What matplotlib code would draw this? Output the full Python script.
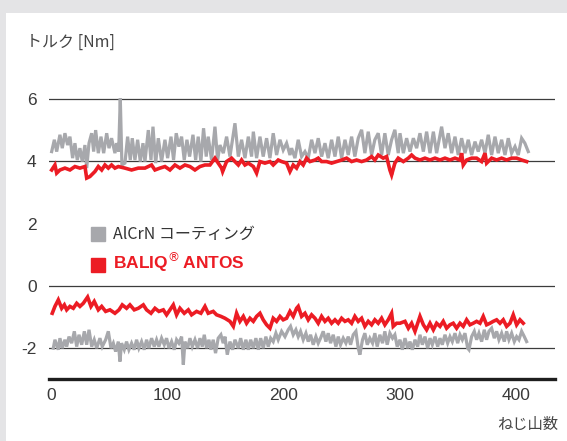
import matplotlib.pyplot as plt
from matplotlib.lines import Line2D
from matplotlib.patches import Rectangle

# AlCrN coating, upper curve
alcrn_top_x = [0.6, 2.9, 4.9, 7.7, 9.7, 12.0, 14.3, 16.3, 18.6, 20.6, 22.6, 24.9, 26.9, 29.2, 30.7, 32.7,
               35.0, 36.7, 38.4, 40.7, 43.0, 45.3, 47.9, 49.9, 52.1, 55.0, 56.4, 58.2, 59.6, 61.0, 63.6,
               65.9, 68.2, 69.9, 72.2, 74.5, 76.8, 79.1, 80.8, 83.7, 86.0, 87.7, 90.0, 92.3, 95.1, 98.0,
               100.3, 103.2, 105.4, 107.7, 110.0, 112.3, 114.6, 116.9, 119.2, 122.1, 124.4, 126.6, 128.9,
               131.2, 133.5, 135.2, 138.1, 141.0, 143.3,
               145.3, 148.2, 151.0, 153.9, 158.2, 161.1, 163.9, 166.8, 169.7, 172.5, 174.0, 176.8, 179.7,
               182.5, 185.4, 188.3, 191.1, 194.0, 196.9, 199.7, 202.6, 205.5, 206.9, 209.8, 212.6, 215.5,
               218.4, 221.2, 224.1, 227.0, 229.8, 232.7, 235.6, 238.4, 241.3, 244.2, 247.0, 249.9, 252.8,
               255.6, 258.5, 261.3, 264.2, 267.1, 269.9, 272.8, 275.7, 278.5, 281.4, 284.3, 287.1, 290.0,
               292.9, 295.7, 298.6,
               300.1, 303.0, 305.8, 308.7, 311.6, 314.4, 317.3, 320.2, 323.0, 325.9, 328.8, 331.6, 335.9,
               338.8, 341.6, 344.5, 347.4, 350.2, 353.1, 356.0, 358.8, 361.7, 364.6, 367.4, 370.3, 373.2,
               376.0, 378.9, 381.8, 384.6, 387.5, 390.4, 393.2, 396.1, 399.0, 401.8, 404.7, 407.5, 410.4]
alcrn_top_y = [4.31, 4.69, 4.31, 4.85, 4.42, 4.90, 4.52, 4.79, 4.10, 4.58, 4.04, 4.42, 3.99, 4.52, 3.78, 4.58,
               4.90, 4.31, 5.00, 4.26, 4.79, 4.26, 4.90, 4.42, 4.74, 4.26, 4.58, 4.31, 6.02, 3.88, 3.94,
               4.79, 4.04, 4.74, 4.04, 4.69, 3.99, 4.58, 3.99, 5.00, 4.04, 5.11, 3.94, 4.74, 3.99, 4.69,
               4.10, 4.79, 4.04, 4.90, 4.47, 4.79, 4.04, 4.69, 4.15, 4.85, 4.04, 4.79, 3.99,
               5.06, 4.15, 4.79, 4.04, 5.11, 4.04,
               4.52, 4.26, 4.79, 4.15, 5.22, 4.15, 4.69, 4.10, 4.79, 4.15, 4.95, 4.10, 4.79,
               4.15, 4.74, 4.10, 4.90, 4.20, 4.69, 4.36, 4.58, 4.20, 4.42, 4.10, 4.69, 4.15,
               4.31, 4.10, 4.69, 4.26, 4.74, 4.15, 4.58, 4.10, 4.69, 4.15, 4.79, 4.10, 4.69,
               4.20, 4.79, 4.15, 4.74, 5.01, 4.26, 4.95, 4.20, 4.69, 4.90, 4.20, 4.90, 4.20,
               4.69, 5.01, 4.26,
               4.90, 4.26, 4.74, 4.31, 4.74, 4.42, 4.90, 4.31, 4.95, 4.26, 4.95, 4.26, 5.11,
               4.42, 4.90, 4.26, 4.79, 4.20, 4.74, 4.26, 4.69, 4.20, 4.63, 4.31, 4.69, 4.26,
               4.85, 4.20, 4.79, 4.26, 4.69, 4.20, 4.74, 4.26, 4.47, 4.20, 4.74, 4.58, 4.31]

# BALIQ ANTOS, upper curve
baliq_top_x = [0.6, 3.4, 4.9, 7.7, 12.0, 16.3, 20.6, 24.9, 29.2, 30.7, 33.5, 37.8, 40.7, 43.6, 46.4, 49.3,
               52.1, 55.0, 57.9, 63.6, 69.3, 75.1, 80.8, 86.5, 89.4, 93.7, 98.0, 102.3, 106.6, 110.9,
               115.2, 119.5, 123.8, 128.1, 132.4, 136.7, 141.0, 143.8, 146.7,
               147.6, 151.0, 155.3, 158.2, 161.1, 163.9, 166.8, 169.7, 174.0, 176.8, 179.7, 184.0, 188.3,
               191.1, 195.4, 198.3, 202.6, 205.5, 208.3, 211.2, 214.1, 216.9, 219.8, 222.7, 227.0, 229.8,
               232.7, 237.0, 241.3, 245.6, 249.9, 254.2, 258.5, 262.8, 267.1, 271.4, 275.7, 278.5, 281.4,
               285.7, 288.6, 291.4, 292.9, 295.7, 298.6,
               303.0, 307.3, 310.1, 313.0, 317.3, 321.6, 325.9, 330.2, 334.5, 338.8, 343.1, 347.4, 351.7,
               353.1, 354.5, 357.4, 361.7, 366.0, 370.3, 373.2, 374.6, 378.9, 383.2, 387.5, 391.8, 396.1,
               400.4, 404.7, 409.0]
baliq_top_y = [3.72, 3.88, 3.62, 3.72, 3.78, 3.72, 3.83, 3.78, 3.83, 3.46, 3.51, 3.67, 3.83, 3.72, 3.88, 3.78,
               3.88, 3.78, 3.83, 3.78, 3.72, 3.78, 3.78, 3.88, 3.72, 3.78, 3.83, 3.72, 3.88, 3.78,
               3.88, 3.83, 3.72, 3.83, 3.88, 3.88, 4.10, 3.94, 3.78,
               3.67, 3.99, 4.10, 3.99, 3.88, 4.04, 3.88, 3.94, 3.83, 3.62, 3.99, 3.94, 3.99,
               3.88, 4.04, 3.99, 3.94, 3.67, 3.88, 3.78, 3.99, 3.88, 4.10, 3.99, 4.04, 4.10,
               3.99, 3.99, 3.94, 3.99, 4.04, 4.10, 3.99, 4.04, 3.99, 4.04, 4.15, 4.04, 4.20,
               4.10, 4.15, 3.72, 3.56, 3.94, 4.10,
               3.99, 4.10, 4.20, 4.10, 4.04, 4.10, 4.04, 4.10, 4.04, 4.10, 4.04, 4.10, 4.04,
               4.26, 3.88, 4.04, 4.10, 4.10, 3.99, 4.26, 3.94, 4.10, 4.04, 4.10, 4.04, 4.10,
               4.10, 4.04, 3.99]

# BALIQ ANTOS, lower curve
baliq_low_x = [1.1, 3.4, 6.3, 9.2, 11.5, 13.5, 16.3, 19.2, 22.1, 24.9, 27.8, 31.5, 34.4, 37.2, 40.7, 43.6,
               47.0, 50.7, 55.0, 58.5, 61.3, 65.0, 67.9, 71.6, 75.1, 79.4, 82.2, 86.0, 89.4, 92.8, 96.6,
               99.4, 102.3, 105.2, 108.0, 110.9, 114.6, 118.1, 120.9, 125.2, 128.9, 132.4, 135.2, 139.5,
               142.4, 146.1,
               149.6, 153.9, 156.8, 159.6, 162.5, 165.4, 168.2, 171.1, 174.0, 176.8, 179.7, 182.5, 185.4,
               188.3, 191.1, 194.0, 196.9, 199.7, 202.6, 205.5, 208.3, 211.2, 212.6, 215.5, 218.4, 221.2,
               224.1, 227.0, 229.8, 232.7, 235.6, 238.4, 241.3, 244.2, 247.0, 249.9, 252.8, 255.6, 258.5,
               261.3, 264.2, 267.1, 269.9, 272.8, 275.7, 278.5, 281.4, 284.3, 287.1, 290.0, 292.9, 294.3,
               297.2,
               300.1, 304.4, 307.3, 310.1, 313.0, 315.9, 317.3, 320.2, 323.0, 325.9, 328.8, 331.6, 334.5,
               337.3, 340.2, 343.1, 345.9, 348.8, 351.7, 354.5, 357.4, 360.3, 363.1, 366.0, 368.9, 371.7,
               374.6, 377.5, 380.3, 383.2, 386.1, 388.9, 391.8, 394.7, 397.5, 400.4, 403.3, 406.1]
baliq_low_y = [-0.88, -0.66, -0.45, -0.72, -0.61, -0.77, -0.66, -0.72, -0.56, -0.66, -0.56, -0.36, -0.66,
               -0.50, -0.77, -0.66, -0.82, -0.77, -0.88, -0.77, -0.61, -0.72, -0.61, -0.77, -0.72, -0.61,
               -0.77, -0.88, -0.72, -0.82, -0.77, -0.93, -0.77, -0.61, -0.93, -0.72, -0.88, -0.77, -0.93,
               -0.82, -0.88, -0.66, -0.88, -0.82, -0.93, -0.98,
               -1.04, -1.14, -1.30, -0.88, -1.14, -0.98, -1.20, -1.04, -1.14, -0.98, -0.88, -1.09, -1.25,
               -1.36, -1.04, -1.14, -0.98, -1.09, -1.04, -0.82, -0.98, -0.72, -0.66, -0.98, -0.88, -1.09,
               -0.93, -1.04, -1.20, -0.98, -1.14, -1.04, -1.20, -1.09, -1.20, -1.04, -1.14, -1.09, -1.20,
               -0.98, -1.14, -1.04, -1.30, -1.14, -1.25, -1.09, -1.20, -1.04, -1.25, -1.09, -0.88, -1.30,
               -1.20,
               -1.20, -1.14, -1.36, -1.20, -1.46, -1.14, -0.98, -1.25, -1.41, -1.20, -1.41, -1.20, -1.30,
               -1.14, -1.36, -1.25, -1.20, -1.36, -1.20, -1.30, -1.09, -1.25, -1.20, -1.14, -1.20, -0.98,
               -1.25, -1.20, -1.14, -1.09, -1.20, -1.09, -1.30, -1.20, -0.93, -1.25, -1.09, -1.20]

# AlCrN coating, lower curve
alcrn_low_x = [2.0, 3.4, 6.3, 7.7, 9.7, 12.0, 13.5, 15.5, 17.8, 20.1, 22.1, 24.1, 26.4, 28.7, 30.7, 32.7,
               35.0, 37.2, 39.3, 42.1, 44.1, 47.0, 49.3, 51.6, 53.6, 55.6, 57.9, 59.3, 60.7, 63.0, 65.0,
               67.0, 69.3, 71.6, 73.6, 75.6, 77.9, 80.2, 82.2, 84.2, 86.5, 88.8, 90.8, 92.8, 95.1, 97.4,
               99.4, 101.4, 103.7, 106.0, 108.0, 110.0, 112.3, 113.8, 115.2, 117.5, 119.5, 121.5, 123.8,
               126.1, 128.1, 130.1, 131.8, 133.8, 135.8, 137.5, 139.5, 141.5, 143.8, 146.1, 148.1,
               149.6, 151.6, 153.9, 156.2, 158.2, 161.1, 163.1, 165.4, 167.6, 169.7, 171.7, 174.0, 176.2,
               178.3, 180.3, 182.5, 184.8, 186.8, 188.9, 191.1, 193.4, 195.4, 198.3, 201.2, 204.0, 206.0,
               208.3, 210.6, 212.6, 214.6, 216.9, 219.2, 221.2, 223.2, 225.5, 227.8, 229.8, 231.8, 234.1,
               236.4, 238.4, 240.4, 242.7, 245.0, 247.0, 249.0, 251.3, 253.6, 255.6, 257.6, 259.9, 262.2,
               264.2, 265.6, 267.9, 269.9, 272.0, 274.2, 276.5, 278.5, 280.5, 282.8, 285.1, 287.1, 289.1,
               291.4, 293.7, 295.7, 297.7,
               300.1, 302.1, 304.4, 306.7, 308.7, 310.7, 313.0, 315.3, 317.3, 319.3, 321.6, 323.9, 325.9,
               327.9, 330.2, 332.5, 334.5, 336.5, 338.8, 341.1, 343.1, 345.1, 347.4, 349.7, 351.7, 353.7,
               356.0, 358.3, 359.4, 361.7, 364.0, 366.0, 368.0, 370.3, 372.6, 374.6, 376.6, 378.9, 381.2,
               383.2, 385.2, 387.5, 389.8, 391.8, 393.8, 396.1, 398.4, 400.4, 402.4, 404.7, 407.0, 409.0]
alcrn_low_y = [-2.00, -1.73, -2.05, -1.68, -2.00, -1.73, -1.95, -1.63, -1.84, -1.46, -1.95, -1.57, -1.89,
               -1.46, -1.89, -1.41, -1.95, -1.73, -2.00, -1.68, -1.95, -1.73, -1.46, -2.00, -1.84, -2.11,
               -1.79, -2.43, -1.84, -2.05, -1.79, -2.05, -1.84, -2.05, -1.73, -2.00, -1.79, -2.05, -1.73,
               -2.00, -1.68, -1.95, -1.73, -1.95, -1.68, -1.89, -1.68, -2.00, -1.79, -2.05, -1.73, -1.84,
               -1.63, -2.53, -1.79, -2.00, -1.68, -1.95, -1.73, -2.00, -1.68, -1.95, -1.57, -2.00, -1.73,
               -2.05, -1.73, -2.16, -1.68, -1.57, -1.84,
               -1.63, -2.21, -1.79, -2.05, -1.73, -2.00, -1.68, -2.05, -1.73, -2.05, -1.73, -2.00, -1.68,
               -2.05, -1.68, -2.00, -1.63, -1.95, -1.68, -1.79, -1.52, -1.73, -1.46, -1.63, -1.41, -1.30,
               -1.57, -1.41, -1.63, -1.46, -1.73, -1.52, -1.79, -1.57, -1.89, -1.63, -1.84, -1.68, -1.46,
               -1.79, -1.52, -1.84, -1.57, -1.95, -1.63, -1.89, -1.68, -1.84, -1.63, -1.89, -1.57, -1.46,
               -2.00, -2.21, -1.73, -1.52, -1.89, -1.68, -1.84, -1.52, -1.95, -1.57, -1.84, -1.46, -1.89,
               -1.52, -1.68, -1.57, -1.95,
               -1.73, -2.05, -1.68, -2.00, -1.79, -2.05, -1.73, -1.95, -1.57, -1.89, -1.63, -2.00, -1.68,
               -1.89, -1.63, -1.95, -1.68, -1.89, -1.57, -1.84, -1.63, -1.79, -1.52, -1.84, -1.57, -1.73,
               -1.52, -2.00, -2.05, -1.63, -1.46, -1.73, -1.52, -1.79, -1.41, -1.73, -1.46, -1.36, -1.68,
               -1.46, -1.73, -1.52, -1.79, -1.46, -1.73, -1.52, -1.79, -1.63, -1.73, -1.46, -1.63, -1.79]

yticks = [6, 4, 2, 0, -2]
grid_levels = [6, 4, 0, -2]
xticks = [0, 100, 200, 300, 400]

gray = '#a7a8ac'
red = '#ec1c24'
jp = ['Noto Sans CJK JP', 'DejaVu Sans']

fig = plt.figure(figsize=(5.67, 4.41), dpi=100, facecolor='#e4e4e6')
fig.patches.append(Rectangle((6 / 567, 0), 1, 428 / 441, transform=fig.transFigure,
                             facecolor='white', edgecolor='none', zorder=-5))

ax = fig.add_axes([49 / 567, 61.7 / 441, 506 / 567, 311.5 / 441])
ax.set_facecolor('none')
ax.set_zorder(2)
ax.set_xlim(-1.7, 433.4)
ax.set_ylim(-3, 7)

for lv in grid_levels:
    ax.axhline(lv, color='#3c3c3c', lw=0.9, zorder=1)

ax.plot(alcrn_top_x, alcrn_top_y, color=gray, lw=2.3, zorder=2, solid_joinstyle='miter')
ax.plot(alcrn_low_x, alcrn_low_y, color=gray, lw=2.3, zorder=2, solid_joinstyle='miter')
ax.plot(baliq_top_x, baliq_top_y, color=red, lw=2.6, zorder=3, solid_joinstyle='miter')
ax.plot(baliq_low_x, baliq_low_y, color=red, lw=2.6, zorder=3, solid_joinstyle='miter')

for s in ['top', 'right', 'left']:
    ax.spines[s].set_visible(False)
ax.spines['bottom'].set_linewidth(2.4)
ax.spines['bottom'].set_color('#1e1e1e')

ax.set_yticks(yticks)
ax.set_yticklabels([str(v) for v in yticks])
ax.set_xticks(xticks)
ax.set_xticklabels([str(v) for v in xticks])
ax.tick_params(axis='both', length=0, labelsize=12.5, labelcolor='#3a3a3a')
ax.tick_params(axis='y', pad=9)
ax.tick_params(axis='x', pad=6)
for lab in ax.get_xticklabels() + ax.get_yticklabels():
    lab.set_family('Liberation Sans')

fig.text(26 / 567, 1 - 42 / 441, 'トルク [Nm]', family=jp, fontsize=11.5, color='#444444',
         ha='left', va='center')
fig.text(558 / 567, 1 - 425 / 441, 'ねじ山数', family=jp, fontsize=11, color='#444444',
         ha='right', va='center')

handles = [Line2D([], [], marker='s', ls='none', ms=10, color=gray),
           Line2D([], [], marker='s', ls='none', ms=10, color=red)]
leg = fig.legend(handles, ['AlCrN コーティング', r'BALIQ$^{\circledR}\,$ANTOS'],
                 loc='upper left', bbox_to_anchor=(92 / 567, 1 - 226 / 441),
                 frameon=False, handlelength=0.8, handletextpad=0.7, labelspacing=0.55,
                 borderaxespad=0, borderpad=0)
leg.set_zorder(5)
t0, t1 = leg.get_texts()
t0.set_family(jp)
t0.set_fontsize(11.5)
t0.set_color('#333333')
t1.set_family('Liberation Sans')
t1.set_fontweight('bold')
t1.set_fontsize(12.5)
t1.set_color(red)

fig.savefig('out.png', dpi=100, facecolor=fig.get_facecolor())
